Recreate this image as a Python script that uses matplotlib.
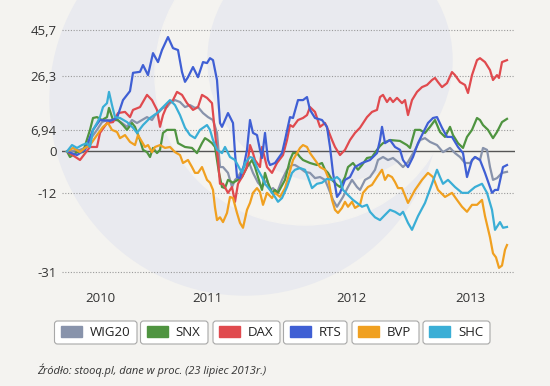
import numpy as np
import matplotlib
matplotlib.use("Agg")
import matplotlib.pyplot as plt
from matplotlib.patches import Ellipse, FancyBboxPatch, Rectangle

# time axis: trading steps from start (mid 2009) to 23 July 2013
years = ["2010", "2011", "2012", "2013"]
year_pos = [33, 140, 284, 403]

# % change, y axis is log of (1 + change)
wig_t = [0, 13, 20, 25, 30, 35, 40, 45, 50, 55, 60, 65, 70, 75, 80, 85, 88, 91, 96, 100,
         103, 108, 113, 118, 123, 128, 131, 136, 141, 146, 150, 153, 156, 161, 165, 168, 171, 175, 180, 183,
         186, 191, 195, 200, 203, 206, 210, 215, 220, 225, 228, 233, 238, 243, 248, 253, 258, 261, 266, 270,
         273, 276, 281, 285, 290, 293, 298, 303, 308, 311, 316, 321, 326, 331, 336, 341, 348, 353, 358, 363,
         370, 376, 383, 388, 393, 398, 403, 408, 413, 416, 420, 423, 426, 430, 435, 440]
wig_v = [0, 0.5, 1.4, 4.6, 6.9, 9.5, 10.2, 10.2, 10.2, 9.2, 7.9, 10.2, 9.2, 10.2, 11.2, 10.2, 11.9, 12.6, 14.4, 14.7,
         16.1, 17.2, 16.5, 14.7, 15.4, 14.4, 14.7, 12.6, 11.2, 10.2, 5.9, -4.7, -4.7, -6.4, -10.4, -8.4, -7.6, -5.5, -3.5, -4.1,
         -6.4, -9.2, -10.4, -8.4, -11.2, -10.7, -12.0, -8.4, -5.5, -4.1, -4.1, -5.0, -6.1, -6.4, -7.9, -7.6, -8.4, -10.4, -13.9, -15.7,
         -14.4, -13.1, -10.4, -8.4, -10.4, -11.2, -8.4, -7.6, -5.5, -2.6, -1.7, -2.6, -2.0, -3.2, -4.7, -3.2, 0.5, 3.6, 4.2, 3.0,
         2.0, -0.2, 1.1, -0.5, -1.7, -3.5, -3.5, -1.7, -2.6, 1.1, 0.5, -4.7, -8.4, -7.9, -6.4, -6.1]

snx_t = [0, 3, 10, 16, 23, 26, 30, 35, 40, 42, 46, 51, 56, 60, 65, 68, 73, 76, 80, 83,
         86, 90, 93, 96, 100, 103, 108, 111, 118, 125, 130, 135, 138, 141, 145, 148, 150, 152, 155, 158,
         161, 166, 171, 175, 180, 185, 188, 191, 195, 198, 201, 205, 208, 211, 218, 223, 226, 230, 233, 236,
         243, 250, 255, 258, 261, 265, 270, 273, 278, 281, 286, 291, 295, 300, 305, 310, 313, 316, 323, 333,
         340, 343, 348, 353, 358, 363, 368, 373, 378, 383, 386, 391, 396, 400, 405, 410, 413, 416, 421, 426,
         430, 435, 440]
snx_v = [0, -1.7, -0.2, -0.2, 6.9, 10.9, 11.2, 10.2, 11.2, 14.4, 10.2, 10.2, 8.5, 6.9, 9.2, 7.9, 3.6, 0.5, -0.2, -1.7,
         1.1, -0.5, 0.5, 5.9, 6.9, 6.9, 6.9, 2.6, 1.4, 1.1, -0.5, 2.6, 4.2, 3.6, 2.6, 1.4, -2.6, -6.4, -10.4, -10.7,
         -8.4, -9.2, -8.4, -7.6, -4.7, -2.6, -4.7, -7.6, -11.2, -6.4, -9.2, -12.0, -11.2, -12.0, -8.4, -2.6, -0.5, -0.5, -1.7, -2.6,
         -3.5, -4.1, -3.5, -5.5, -6.4, -8.4, -9.8, -10.4, -7.6, -4.7, -3.5, -5.5, -4.1, -2.0, -1.7, 0.5, 1.7, 2.6, 3.6, 3.3,
         2.0, 1.1, 6.9, 6.9, 5.9, 7.9, 10.2, 6.2, 4.6, 7.9, 5.2, 2.6, 1.1, 4.6, 6.9, 10.9, 10.2, 8.5, 6.9, 4.2,
         6.2, 9.5, 10.6]

dax_t = [0, 13, 23, 30, 33, 40, 46, 51, 58, 63, 66, 73, 80, 85, 90, 93, 96, 101, 106, 110,
         115, 120, 126, 131, 135, 140, 145, 148, 151, 153, 156, 161, 165, 168, 171, 175, 180, 183, 186, 188,
         193, 195, 200, 205, 210, 216, 220, 223, 226, 231, 236, 240, 243, 248, 253, 258, 261, 265, 268, 273,
         278, 283, 288, 293, 300, 305, 310, 313, 316, 320, 323, 326, 330, 335, 338, 341, 345, 350, 355, 360,
         365, 368, 371, 375, 380, 385, 388, 393, 398, 401, 405, 410, 413, 418, 423, 426, 430, 432, 435, 440]
dax_v = [0, -2.6, 1.4, 1.4, 5.9, 9.2, 9.5, 12.6, 13.0, 11.2, 13.7, 14.7, 19.1, 17.2, 13.7, 7.9, 11.9, 16.1, 17.2, 20.2,
         19.1, 16.1, 13.7, 14.7, 19.1, 18.0, 16.1, 5.9, -2.6, -9.5, -9.5, -12.0, -10.4, -14.4, -9.5, -7.6, -4.7, 2.0, -0.5, -2.6,
         -4.7, 1.4, -4.7, -6.4, -3.5, -1.1, 3.6, 8.5, 7.9, 10.2, 10.9, 11.9, 14.7, 13.0, 7.9, 9.2, 6.9, 3.6, 1.4, -1.1,
         0.5, 3.6, 5.9, 7.6, 11.2, 13.0, 13.7, 18.3, 19.1, 16.5, 18.0, 16.5, 18.0, 16.1, 17.2, 11.9, 17.2, 20.2, 22.0, 22.8,
         24.7, 25.5, 23.9, 22.0, 23.5, 27.8, 26.6, 23.9, 22.8, 19.8, 26.6, 32.6, 33.4, 31.8, 28.6, 24.7, 26.6, 25.5, 31.8, 32.6]

rts_t = [0, 10, 18, 26, 33, 43, 50, 56, 63, 66, 73, 76, 81, 86, 91, 95, 101, 106, 111, 115,
         118, 121, 126, 131, 136, 140, 143, 146, 150, 153, 155, 161, 166, 168, 170, 173, 177, 180, 183, 186,
         190, 193, 195, 198, 201, 203, 208, 215, 218, 223, 226, 231, 236, 240, 243, 248, 255, 260, 263, 266,
         270, 273, 278, 283, 288, 295, 303, 310, 313, 315, 318, 323, 328, 333, 336, 341, 346, 351, 356, 361,
         366, 370, 375, 380, 385, 391, 396, 400, 405, 408, 413, 418, 425, 428, 431, 436, 440]
rts_v = [0, -1.1, 0.5, 6.9, 10.2, 9.9, 10.9, 17.2, 20.5, 27.5, 27.9, 30.6, 26.6, 35.5, 31.8, 36.8, 42.4, 37.6, 36.8, 27.8,
         24.0, 25.8, 29.8, 25.8, 31.8, 31.4, 33.4, 32.6, 24.7, 9.2, 7.9, 12.6, 9.2, -0.5, -7.6, -7.9, -4.1, 0.5, 10.2, 5.9,
         5.2, 0.5, -2.0, 5.9, -2.6, -4.1, -3.5, -0.5, 3.6, 11.2, 10.9, 17.2, 17.2, 18.3, 13.7, 10.9, 10.2, 7.9, 1.4, -6.4,
         -13.1, -12.0, -8.4, -7.6, -4.7, -3.5, -2.6, -0.5, 3.6, 7.9, 2.6, 3.6, 1.4, 0.5, -2.6, -4.7, -1.7, 2.6, 5.9, 9.2,
         10.9, 11.2, 7.6, 4.6, 4.6, 1.4, -0.5, -7.6, -2.6, -1.7, -2.6, -6.4, -12.0, -11.2, -11.2, -4.7, -4.1]

bvp_t = [0, 6, 13, 18, 23, 30, 36, 41, 45, 50, 53, 58, 63, 68, 71, 75, 78, 81, 85, 88,
         93, 98, 103, 108, 113, 116, 121, 125, 128, 131, 135, 140, 143, 146, 148, 150, 153, 156, 160, 163,
         166, 170, 173, 176, 180, 183, 186, 190, 193, 196, 200, 205, 208, 213, 218, 221, 226, 230, 233, 236,
         240, 243, 248, 253, 258, 261, 265, 268, 271, 275, 278, 281, 285, 288, 293, 296, 301, 305, 310, 315,
         318, 321, 325, 328, 331, 335, 341, 348, 355, 361, 366, 371, 378, 385, 390, 395, 400, 405, 410, 415,
         418, 423, 426, 429, 432, 435, 438, 440]
bvp_v = [0, 1.1, -0.2, 1.1, 2.0, 5.2, 7.9, 9.2, 6.9, 6.2, 4.2, 5.2, 3.0, 2.0, 5.2, 3.0, 1.4, 2.0, -0.2, 1.4,
         2.0, 1.1, 1.4, -0.2, -1.1, -3.5, -2.6, -4.7, -6.4, -6.4, -4.7, -8.4, -9.2, -11.2, -15.9, -19.1, -18.4, -19.6, -17.3, -13.1,
         -13.4, -17.3, -19.8, -21.0, -16.5, -14.7, -12.0, -10.7, -11.8, -15.2, -12.0, -13.4, -12.0, -13.1, -10.7, -7.9, -2.6, -0.5, 1.1, 2.0,
         1.4, -0.5, -2.6, -4.7, -5.5, -7.6, -13.9, -16.5, -17.3, -16.0, -14.4, -15.7, -14.4, -16.0, -15.2, -12.0, -10.4, -9.8, -7.6, -5.5,
         -8.4, -7.0, -7.6, -9.0, -10.7, -10.7, -14.7, -11.2, -8.4, -6.4, -7.6, -11.2, -13.1, -12.0, -13.9, -15.7, -17.0, -15.2, -15.2, -13.9,
         -18.1, -23.3, -27.0, -27.9, -30.2, -29.7, -26.2, -25.1]

shc_t = [0, 5, 10, 15, 20, 23, 26, 30, 33, 36, 40, 42, 45, 48, 53, 60, 66, 70, 76, 83,
         90, 96, 103, 108, 113, 118, 123, 128, 133, 140, 143, 146, 150, 155, 158, 163, 168, 175, 178, 183,
         186, 191, 195, 198, 203, 208, 211, 215, 220, 225, 228, 233, 238, 241, 245, 250, 255, 260, 265, 270,
         273, 276, 281, 286, 290, 295, 300, 303, 308, 313, 318, 323, 328, 333, 336, 341, 345, 351, 358, 365,
         370, 373, 376, 381, 388, 395, 401, 408, 415, 420, 425, 428, 433, 436, 440]
shc_v = [0, 2.0, 1.1, 2.0, 2.6, 1.4, 6.9, 9.2, 11.2, 14.7, 16.1, 20.2, 15.4, 11.2, 10.9, 9.5, 7.6, 5.9, 8.5, 10.9,
         12.6, 14.7, 17.2, 15.4, 11.9, 7.6, 5.2, 4.2, 6.9, 8.5, 6.9, 3.6, 0.5, -0.5, 1.4, -1.7, -2.6, -6.4, -3.5, -1.7,
         -2.0, -5.5, -7.6, -9.5, -11.2, -13.1, -14.4, -13.4, -10.4, -6.4, -5.5, -5.0, -5.5, -7.6, -10.7, -9.5, -9.2, -8.1, -8.4, -7.6,
         -8.4, -11.2, -12.6, -13.9, -14.7, -15.7, -15.2, -17.0, -18.4, -19.1, -17.8, -16.5, -17.0, -17.8, -17.0, -19.8, -21.5, -18.1, -14.7, -9.5,
         -5.5, -7.6, -9.5, -8.4, -10.4, -12.0, -12.0, -10.4, -9.5, -12.0, -16.5, -21.5, -19.6, -21.0, -20.8]

names = ["WIG20", "SNX", "DAX", "RTS", "BVP", "SHC"]
series = [(wig_t, wig_v), (snx_t, snx_v), (dax_t, dax_v), (rts_t, rts_v), (bvp_t, bvp_v), (shc_t, shc_v)]
colors = ["#8893ab", "#4f9440", "#e04a4e", "#3f5fd4", "#f0a020", "#3aaed6"]

yticks = [45.7, 26.3, 6.94, 0, -12, -31]
ylabels = ["45,7", "26,3", "6,94", "0", "-12", "-31"]

plt.rcParams["font.family"] = ["Open Sans", "DejaVu Sans"]

W, H = 5.5, 3.86
BG = "#f4f3f0"
SW = "#e9eaef"
fig = plt.figure(figsize=(W, H), dpi=100, facecolor=BG)

# background swirl (decoration)
for cx, cy, r, c in [(2.45, 1.0, 1.95, SW), (3.05, 0.75, 1.5, BG), (3.3, 0.6, 1.22, SW)]:
    fig.add_artist(Ellipse((cx, H - cy), 2 * r, 2 * r, color=c, transform=fig.dpi_scale_trans, zorder=-5))

ax = fig.add_axes([62 / 550, 101 / 386, 453 / 550, 265 / 386])
ax.set_facecolor("none")
ax.set_yscale("function", functions=(lambda v: np.log1p(np.asarray(v) / 100.0),
                                     lambda u: 100.0 * np.expm1(np.asarray(u))))
ax.set_ylim(-33.8, 50.1)
ax.set_xlim(-5, 448)

for v in yticks:
    if v == 0:
        ax.axhline(v, color="#555555", lw=1.0, zorder=1)
    else:
        ax.axhline(v, color="#9a9a9a", lw=0.8, ls=(0, (1, 1.5)), zorder=1)

for (t, v), c in zip(series, colors):
    ax.plot(t, v, color=c, lw=1.6, zorder=2)

ax.set_yticks(yticks)
ax.set_yticklabels(ylabels)
ax.set_xticks(year_pos)
ax.set_xticklabels(years)
ax.yaxis.set_minor_locator(matplotlib.ticker.NullLocator())
ax.tick_params(length=0, labelsize=9.5, colors="#333333")
ax.tick_params(axis="y", pad=4)
ax.tick_params(axis="x", pad=5)
for s in ax.spines.values():
    s.set_visible(False)

# legend boxes
box_l = [54.5, 140.5, 213, 283.5, 352, 423]
box_r = [137, 208, 280, 347, 419, 490]
for name, c, l, r in zip(names, colors, box_l, box_r):
    fig.add_artist(FancyBboxPatch((l / 100, (386 - 344) / 100), (r - l) / 100, 0.23,
                                  boxstyle="round,pad=0,rounding_size=0.03",
                                  fc="white", ec="#a8a8a8", lw=0.8, transform=fig.dpi_scale_trans))
    fig.add_artist(Rectangle(((l + 6) / 100, (386 - 337) / 100), 0.21, 0.11, color=c,
                             transform=fig.dpi_scale_trans))
    fig.text((l + 35) / 550, 1 - 332.5 / 386, name, fontsize=9.5, color="#222222", va="center", ha="left")

fig.text(37 / 550, 1 - 370 / 386, "Źródło: stooq.pl, dane w proc. (23 lipiec 2013r.)",
         fontsize=8, style="italic", color="#333333", va="center", ha="left")

fig.savefig("out.png", dpi=100, facecolor=fig.get_facecolor())
